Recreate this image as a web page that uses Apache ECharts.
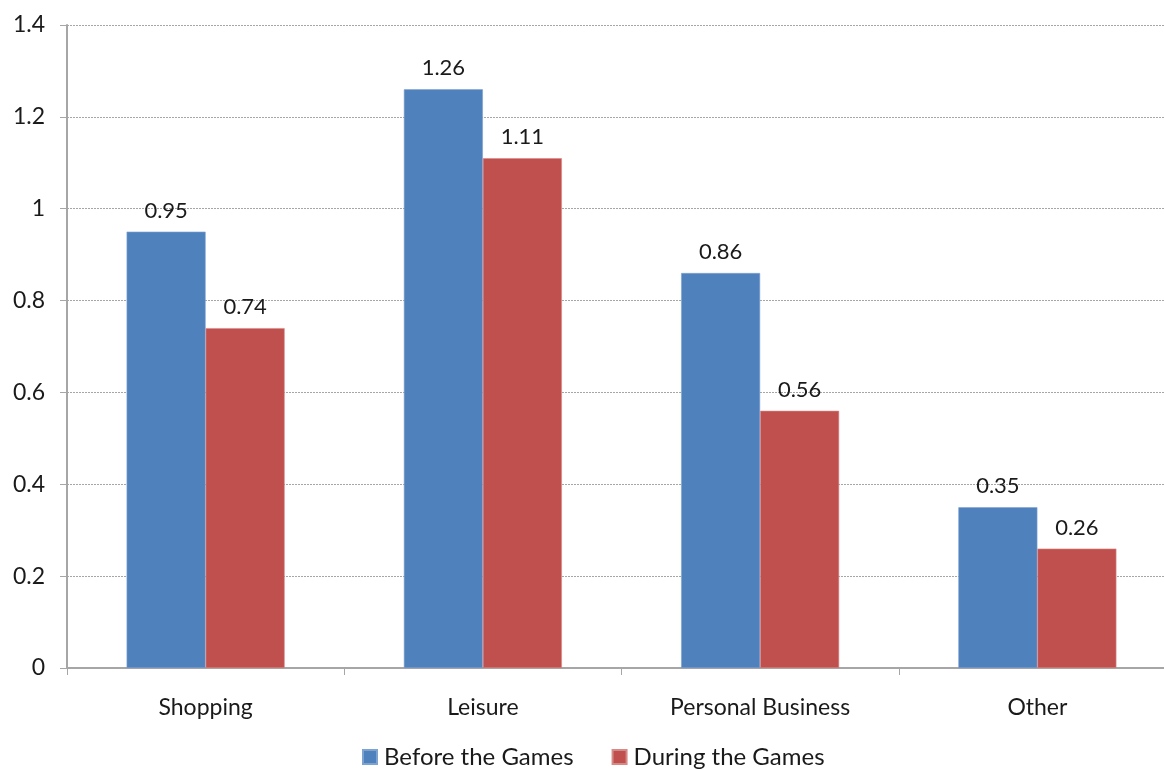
<!DOCTYPE html>
<html>
<head>
<meta charset="utf-8">
<script src="https://cdn.jsdelivr.net/npm/echarts@6/dist/echarts.min.js"></script>
<style>
  html, body { margin: 0; padding: 0; background: #fff; overflow: hidden; }
  #chart { width: 1164px; height: 770px; }
</style>
</head>
<body>
<div id="chart"></div>
<script>
// Trip rates by purpose, before and during the Games
const categories = ['Shopping', 'Leisure', 'Personal Business', 'Other'];
const beforeGames = [0.95, 1.26, 0.86, 0.35];
const duringGames = [0.74, 1.11, 0.56, 0.26];
const seriesNames = ['Before the Games', 'During the Games'];

const FONT = 'Lato, "Open Sans", sans-serif';
const TEXT = '#1a1a1a';

const chart = echarts.init(document.getElementById('chart'), null, { renderer: 'canvas' });

const labelStyle = {
  show: true,
  position: 'top',
  distance: 10,
  fontFamily: FONT,
  fontSize: 22,
  color: TEXT,
  formatter: p => p.value.toFixed(2)
};

chart.setOption({
  animation: false,
  textStyle: { fontFamily: FONT },
  // plot area runs slightly past the right edge of the canvas
  grid: {
    left: 67, top: 25, width: 1109, height: 643,
    containLabel: false,
    outerBoundsMode: 'none'
  },
  legend: {
    data: seriesNames,
    bottom: -4,
    left: 357,
    itemWidth: 14,
    itemHeight: 14,
    itemGap: 38,
    icon: 'rect',
    textStyle: { fontFamily: FONT, fontSize: 24, color: TEXT, padding: [0, 0, 0, 2] }
  },
  xAxis: {
    type: 'category',
    data: categories,
    axisLine: { lineStyle: { color: '#a6a6a6', width: 2 } },
    axisTick: { show: true, alignWithLabel: false, length: 7, lineStyle: { color: '#a6a6a6', width: 1 } },
    axisLabel: { fontFamily: FONT, fontSize: 23, color: TEXT, margin: 28 },
    splitLine: { show: false }
  },
  yAxis: {
    type: 'value',
    min: 0,
    max: 1.4,
    interval: 0.2,
    axisLine: { show: true, lineStyle: { color: '#a6a6a6', width: 2 } },
    axisTick: { show: true, length: 7, lineStyle: { color: '#a6a6a6', width: 1 } },
    axisLabel: {
      fontFamily: FONT, fontSize: 23, color: TEXT, margin: 22,
      formatter: v => String(+v.toFixed(1))
    },
    splitLine: { show: true, lineStyle: { color: '#a6a6a6', type: [2, 1], width: 1 } }
  },
  series: [
    {
      name: seriesNames[0],
      type: 'bar',
      data: beforeGames,
      barGap: '0%',
      barCategoryGap: '43%',
      itemStyle: { color: '#4F81BD', borderColor: '#7ea3d1', borderWidth: 0.6 },
      label: labelStyle
    },
    {
      name: seriesNames[1],
      type: 'bar',
      data: duringGames,
      itemStyle: { color: '#C0504D', borderColor: '#d68a88', borderWidth: 0.6 },
      label: labelStyle
    }
  ]
});
</script>
</body>
</html>
